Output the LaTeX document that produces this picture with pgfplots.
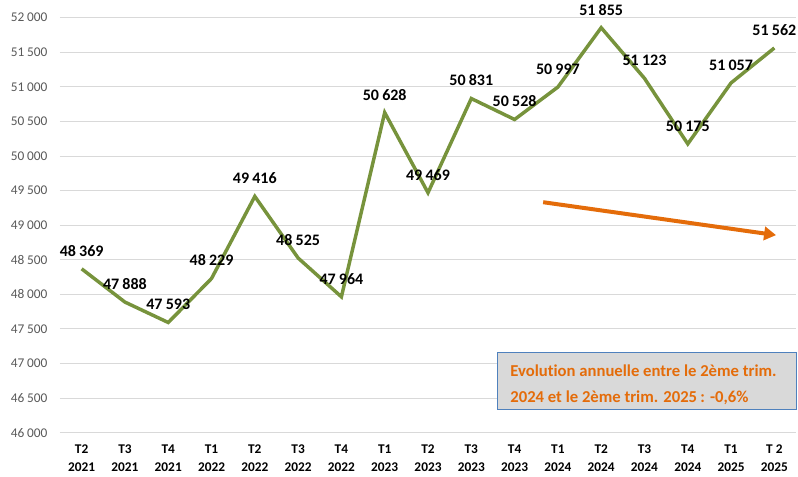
\documentclass[border=0pt]{standalone}
\usepackage{fontspec}
\setmainfont[Ligatures=NoCommon]{Carlito}
\usepackage{pgfplots}
\pgfplotsset{compat=1.18}
\usetikzlibrary{arrows.meta}
\definecolor{linegreen}{HTML}{77933C}
\definecolor{arroworange}{HTML}{E46C0A}
\definecolor{gridgray}{HTML}{D9D9D9}
\definecolor{ticktext}{HTML}{595959}
\definecolor{boxfill}{HTML}{D9D9D9}
\definecolor{boxblue}{HTML}{4F81BD}
\begin{document}
\begin{tikzpicture}[x=1pt,y=1pt]
\path[use as bounding box] (0,0) rectangle (598.5,357);
\begin{axis}[
  at={(45pt,32.5pt)}, anchor=south west,
  scale only axis, width=552pt, height=311.25pt,
  xmin=-0.5, xmax=16.5, ymin=46000, ymax=52000,
  ytick={46000,46500,...,52000},
  axis line style={draw=none},
  major tick length=0pt,
  ymajorgrids, grid style={gridgray, line width=0.75pt},
  xtick={0,...,16},
  xticklabels={T2\\2021,T3\\2021,T4\\2021,T1\\2022,T2\\2022,T3\\2022,T4\\2022,T1\\2023,T2\\2023,T3\\2023,T4\\2023,T1\\2024,T2\\2024,T3\\2024,T4\\2024,T1\\2025,T 2\\2025},
  xticklabel style={align=center, font=\fontsize{10}{13.5}\selectfont\bfseries, text=black, yshift=-5.5pt},
  yticklabel style={font=\fontsize{10}{12}\selectfont, text=ticktext, xshift=-6pt},
  scaled y ticks=false,
  /pgf/number format/1000 sep={\hspace{0.2em}},
  /pgf/number format/assume math mode=true,
  clip=false,
  nodes near coords,
  every node near coord/.append style={font=\fontsize{12}{14}\selectfont\bfseries, text=black, anchor=center, yshift=13.5pt},
]
\addplot[linegreen, line width=2.6pt, mark=none] coordinates {
(0,48369) (1,47888) (2,47593) (3,48229) (4,49416) (5,48525) (6,47964) (7,50628) (8,49469) (9,50831) (10,50528) (11,50997) (12,51855) (13,51123) (14,50175) (15,51057) (16,51562)
};
\draw[arroworange, line width=3pt, -{Triangle[length=9pt,width=10pt]}] (axis cs:10.66,49332) -- (axis cs:16.04,48856);
\draw[boxblue, fill=boxfill, line width=0.75pt] (rel axis cs:0.595,0.056) rectangle (rel axis cs:1.0,0.1935);
\node[anchor=west, align=left, text=arroworange, font=\fontsize{12.5}{19.5}\selectfont\bfseries] at (rel axis cs:0.6055,0.116) {Evolut\kern0pt ion annuelle entre le 2ème trim.\\2024 et le 2ème trim. 2025\hspace{0.2em}: -0,6\%};
\end{axis}
\end{tikzpicture}
\end{document}
